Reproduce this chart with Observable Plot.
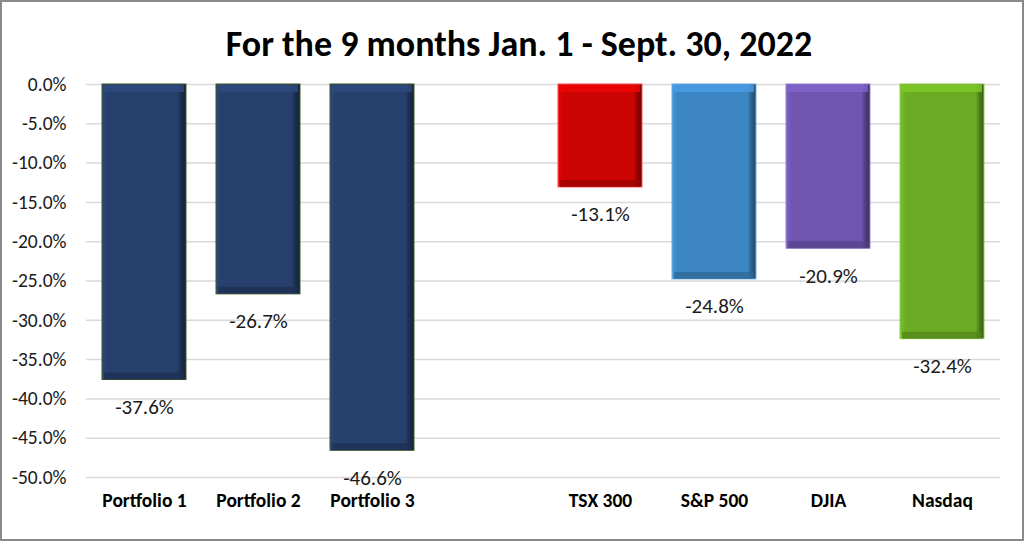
<!DOCTYPE html>
<html><head><meta charset="utf-8">
<script src="https://cdn.jsdelivr.net/npm/d3@7"></script>
<script src="https://cdn.jsdelivr.net/npm/@observablehq/plot@0.6"></script>
<style>
body{margin:0;background:#fff}
#wrap{position:relative;width:1024px;height:541px;overflow:hidden;font-family:Carlito,Lato,sans-serif;background:#fff}
#frame{position:absolute;left:0;top:0;width:1024px;height:541px;box-sizing:border-box;border:2px solid #8a8a8a;pointer-events:none}
#title{position:absolute;top:23px;left:7px;width:1024px;text-align:center;font-weight:bold;font-size:36px;line-height:42px;color:#000}
#chart{position:absolute;left:0;top:0}
</style></head>
<body><div id="wrap"><div id="chart"></div><div id="title">For the 9 months Jan. 1 - Sept. 30, 2022</div><div id="frame"></div></div>
<script>
const categories = ["Portfolio 1","Portfolio 2","Portfolio 3"," ","TSX 300","S&P 500","DJIA","Nasdaq"];
const names = ["Portfolio 1","Portfolio 2","Portfolio 3","TSX 300","S&P 500","DJIA","Nasdaq"];
const values = [-37.6,-26.7,-46.6,-13.1,-24.8,-20.9,-32.4];
const colors = ["#263F6C","#263F6C","#263F6C","#CC0404","#3D86C4","#6F55AF","#6BAB23"];
const edgeColors = ["#3f5a2a","#3f5a2a","#3f5a2a","#ff5050","#6fb0e6","#9a85d6","#8fd04a"];
const yTicks = [0,-5,-10,-15,-20,-25,-30,-35,-40,-45,-50];

const data = names.map((n,i)=>({name:n, value:values[i], i}));
const light = c => d3.color(c).brighter(0.45).formatHex();
const dark = c => d3.color(c).darker(0.8).formatHex();

const chart = Plot.plot({
  width:1024, height:541,
  marginTop:84, marginBottom:64, marginLeft:86, marginRight:24,
  style:{fontFamily:"Carlito, Lato, sans-serif", background:"transparent", color:"#000"},
  color:{type:"identity"},
  x:{domain:categories, paddingInner:0.265, paddingOuter:0.131, label:null},
  y:{domain:[-50,0], label:null},
  marks:[
    Plot.gridY(yTicks,{stroke:"#d9d9d9", strokeOpacity:1, strokeWidth:1.5}),
    Plot.barY(data,{x:"name", y:"value", fill:d=>`url(#bev${d.i})`, stroke:d=>edgeColors[d.i], strokeWidth:1}),
    Plot.tickY(data,{x:"name", y:()=>0, dy:4, stroke:d=>light(colors[d.i]), strokeWidth:7, insetLeft:2, insetRight:2, strokeOpacity:0.8}),
    Plot.tickY(data,{x:"name", y:"value", dy:-4, stroke:d=>dark(colors[d.i]), strokeWidth:7, insetLeft:2, insetRight:2, strokeOpacity:0.7}),
    Plot.text(data,{x:"name", y:"value", dy:27, text:d=>d.value.toFixed(1)+"%", fontSize:21, fill:"#1a1a1a"}),
    Plot.axisY(yTicks,{tickSize:0, tickPadding:20, fontSize:19.5, tickFormat:d=>d.toFixed(1)+"%", label:null, fill:"#1a1a1a"}),
    Plot.axisX({tickSize:0, tickPadding:16, fontSize:19.5, fontWeight:"bold", label:null, tickFormat:d=>d.trim()})
  ]
});
document.getElementById("chart").appendChild(chart);

// bevel gradients
const svg = d3.select(chart.tagName.toLowerCase()==="svg" ? chart : chart.querySelector("svg"));
const defs = svg.insert("defs",":first-child");
colors.forEach((c,i)=>{
  const g = defs.append("linearGradient").attr("id",`bev${i}`).attr("x1","0").attr("x2","1").attr("y1","0").attr("y2","0");
  g.append("stop").attr("offset","0").attr("stop-color",d3.color(c).brighter(0.35).formatHex());
  g.append("stop").attr("offset","0.07").attr("stop-color",c);
  g.append("stop").attr("offset","0.9").attr("stop-color",c);
  g.append("stop").attr("offset","0.94").attr("stop-color",d3.color(c).darker(0.8).formatHex());
  g.append("stop").attr("offset","1").attr("stop-color",d3.color(c).darker(1.8).formatHex());
});
</script>
</body></html>
